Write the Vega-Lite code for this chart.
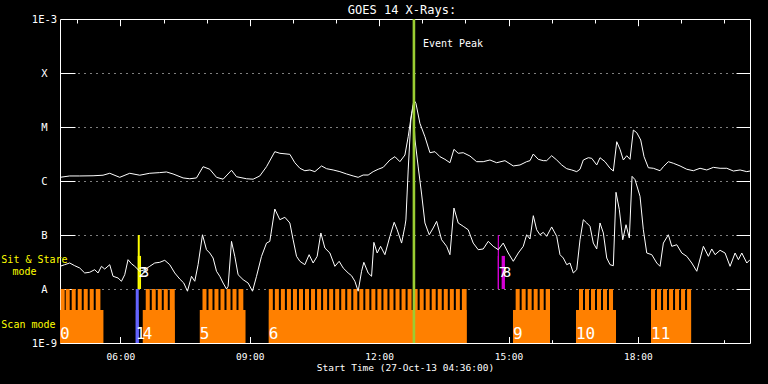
{
  "$schema": "https://vega.github.io/schema/vega-lite/v6.json",
  "width": 690,
  "height": 324,
  "autosize": {"type": "none"},
  "padding": {"left": 60, "top": 19, "right": 18, "bottom": 41},
  "background": "black",
  "title": {"text": "GOES 14 X-Rays:", "color": "white", "fontSize": 12, "fontWeight": "normal", "font": "DejaVu Sans Mono", "frame": "group", "anchor": "middle", "dx": -3, "baseline": "alphabetic", "offset": -11.5},
  "config": {
    "view": {"stroke": null},
    "font": "DejaVu Sans Mono",
    "axis": {"labelColor": "white", "titleColor": "white", "tickColor": "white", "domainColor": "white", "gridColor": "white", "labelFont": "DejaVu Sans Mono", "titleFont": "DejaVu Sans Mono", "titleFontWeight": "normal", "zindex": 1, "tickWidth": 1, "domainWidth": 1}
  },
  "datasets": {
    "xrays": [
      {"hour": 4.6, "flux": 1.17e-6, "channel": "long"},
      {"hour": 4.825, "flux": 1.24e-6, "channel": "long"},
      {"hour": 5.057, "flux": 1.24e-6, "channel": "long"},
      {"hour": 5.366, "flux": 1.25e-6, "channel": "long"},
      {"hour": 5.598, "flux": 1.28e-6, "channel": "long"},
      {"hour": 5.753, "flux": 1.39e-6, "channel": "long"},
      {"hour": 5.985, "flux": 1.17e-6, "channel": "long"},
      {"hour": 6.217, "flux": 1.39e-6, "channel": "long"},
      {"hour": 6.449, "flux": 1.28e-6, "channel": "long"},
      {"hour": 6.681, "flux": 1.39e-6, "channel": "long"},
      {"hour": 6.913, "flux": 1.43e-6, "channel": "long"},
      {"hour": 7.069, "flux": 1.47e-6, "channel": "long"},
      {"hour": 7.222, "flux": 1.35e-6, "channel": "long"},
      {"hour": 7.454, "flux": 1.14e-6, "channel": "long"},
      {"hour": 7.609, "flux": 1.10e-6, "channel": "long"},
      {"hour": 7.765, "flux": 1.14e-6, "channel": "long"},
      {"hour": 7.918, "flux": 1.84e-6, "channel": "long"},
      {"hour": 8.073, "flux": 1.65e-6, "channel": "long"},
      {"hour": 8.229, "flux": 1.17e-6, "channel": "long"},
      {"hour": 8.382, "flux": 1.08e-6, "channel": "long"},
      {"hour": 8.577, "flux": 1.58e-6, "channel": "long"},
      {"hour": 8.693, "flux": 1.20e-6, "channel": "long"},
      {"hour": 8.925, "flux": 1.10e-6, "channel": "long"},
      {"hour": 9.078, "flux": 1.08e-6, "channel": "long"},
      {"hour": 9.233, "flux": 1.24e-6, "channel": "long"},
      {"hour": 9.389, "flux": 1.84e-6, "channel": "long"},
      {"hour": 9.581, "flux": 3.49e-6, "channel": "long"},
      {"hour": 9.698, "flux": 3.26e-6, "channel": "long"},
      {"hour": 9.930, "flux": 3.12e-6, "channel": "long"},
      {"hour": 10.046, "flux": 2.18e-6, "channel": "long"},
      {"hour": 10.162, "flux": 1.72e-6, "channel": "long"},
      {"hour": 10.277, "flux": 1.55e-6, "channel": "long"},
      {"hour": 10.394, "flux": 1.60e-6, "channel": "long"},
      {"hour": 10.510, "flux": 1.49e-6, "channel": "long"},
      {"hour": 10.665, "flux": 1.90e-6, "channel": "long"},
      {"hour": 10.781, "flux": 1.69e-6, "channel": "long"},
      {"hour": 10.934, "flux": 1.60e-6, "channel": "long"},
      {"hour": 11.090, "flux": 1.49e-6, "channel": "long"},
      {"hour": 11.245, "flux": 1.35e-6, "channel": "long"},
      {"hour": 11.398, "flux": 1.24e-6, "channel": "long"},
      {"hour": 11.514, "flux": 1.17e-6, "channel": "long"},
      {"hour": 11.630, "flux": 1.29e-6, "channel": "long"},
      {"hour": 11.746, "flux": 1.29e-6, "channel": "long"},
      {"hour": 11.862, "flux": 1.49e-6, "channel": "long"},
      {"hour": 11.978, "flux": 1.65e-6, "channel": "long"},
      {"hour": 12.094, "flux": 1.79e-6, "channel": "long"},
      {"hour": 12.250, "flux": 2.45e-6, "channel": "long"},
      {"hour": 12.366, "flux": 2.82e-6, "channel": "long"},
      {"hour": 12.482, "flux": 2.28e-6, "channel": "long"},
      {"hour": 12.598, "flux": 3.03e-6, "channel": "long"},
      {"hour": 12.674, "flux": 6.6e-6, "channel": "long"},
      {"hour": 12.753, "flux": 1.79e-5, "channel": "long"},
      {"hour": 12.807, "flux": 3.16e-5, "channel": "long"},
      {"hour": 12.853, "flux": 2.75e-5, "channel": "long"},
      {"hour": 12.946, "flux": 1.17e-5, "channel": "long"},
      {"hour": 13.062, "flux": 6.6e-6, "channel": "long"},
      {"hour": 13.178, "flux": 3.34e-6, "channel": "long"},
      {"hour": 13.294, "flux": 3.49e-6, "channel": "long"},
      {"hour": 13.410, "flux": 2.82e-6, "channel": "long"},
      {"hour": 13.526, "flux": 2.52e-6, "channel": "long"},
      {"hour": 13.642, "flux": 2.18e-6, "channel": "long"},
      {"hour": 13.735, "flux": 3.86e-6, "channel": "long"},
      {"hour": 13.834, "flux": 3.26e-6, "channel": "long"},
      {"hour": 13.950, "flux": 3.34e-6, "channel": "long"},
      {"hour": 14.106, "flux": 2.90e-6, "channel": "long"},
      {"hour": 14.261, "flux": 2.28e-6, "channel": "long"},
      {"hour": 14.414, "flux": 2.28e-6, "channel": "long"},
      {"hour": 14.570, "flux": 2.45e-6, "channel": "long"},
      {"hour": 14.725, "flux": 2.18e-6, "channel": "long"},
      {"hour": 14.918, "flux": 2.38e-6, "channel": "long"},
      {"hour": 15.111, "flux": 1.90e-6, "channel": "long"},
      {"hour": 15.266, "flux": 1.98e-6, "channel": "long"},
      {"hour": 15.421, "flux": 2.28e-6, "channel": "long"},
      {"hour": 15.498, "flux": 2.38e-6, "channel": "long"},
      {"hour": 15.575, "flux": 3.16e-6, "channel": "long"},
      {"hour": 15.690, "flux": 2.52e-6, "channel": "long"},
      {"hour": 15.806, "flux": 2.38e-6, "channel": "long"},
      {"hour": 15.885, "flux": 2.38e-6, "channel": "long"},
      {"hour": 16.001, "flux": 2.94e-6, "channel": "long"},
      {"hour": 16.118, "flux": 2.45e-6, "channel": "long"},
      {"hour": 16.234, "flux": 1.98e-6, "channel": "long"},
      {"hour": 16.350, "flux": 1.69e-6, "channel": "long"},
      {"hour": 16.466, "flux": 1.60e-6, "channel": "long"},
      {"hour": 16.582, "flux": 1.49e-6, "channel": "long"},
      {"hour": 16.658, "flux": 1.65e-6, "channel": "long"},
      {"hour": 16.735, "flux": 2.45e-6, "channel": "long"},
      {"hour": 16.851, "flux": 2.70e-6, "channel": "long"},
      {"hour": 16.930, "flux": 2.63e-6, "channel": "long"},
      {"hour": 17.046, "flux": 1.98e-6, "channel": "long"},
      {"hour": 17.122, "flux": 2.70e-6, "channel": "long"},
      {"hour": 17.238, "flux": 2.28e-6, "channel": "long"},
      {"hour": 17.354, "flux": 1.72e-6, "channel": "long"},
      {"hour": 17.431, "flux": 1.53e-6, "channel": "long"},
      {"hour": 17.510, "flux": 5.34e-6, "channel": "long"},
      {"hour": 17.586, "flux": 3.86e-6, "channel": "long"},
      {"hour": 17.663, "flux": 2.45e-6, "channel": "long"},
      {"hour": 17.742, "flux": 2.94e-6, "channel": "long"},
      {"hour": 17.818, "flux": 2.52e-6, "channel": "long"},
      {"hour": 17.895, "flux": 8.78e-6, "channel": "long"},
      {"hour": 17.974, "flux": 7.84e-6, "channel": "long"},
      {"hour": 18.066, "flux": 5.74e-6, "channel": "long"},
      {"hour": 18.143, "flux": 2.82e-6, "channel": "long"},
      {"hour": 18.243, "flux": 1.76e-6, "channel": "long"},
      {"hour": 18.359, "flux": 1.72e-6, "channel": "long"},
      {"hour": 18.514, "flux": 1.55e-6, "channel": "long"},
      {"hour": 18.591, "flux": 1.84e-6, "channel": "long"},
      {"hour": 18.707, "flux": 2.28e-6, "channel": "long"},
      {"hour": 18.823, "flux": 2.13e-6, "channel": "long"},
      {"hour": 18.978, "flux": 1.90e-6, "channel": "long"},
      {"hour": 19.134, "flux": 1.65e-6, "channel": "long"},
      {"hour": 19.287, "flux": 1.55e-6, "channel": "long"},
      {"hour": 19.442, "flux": 1.72e-6, "channel": "long"},
      {"hour": 19.598, "flux": 1.60e-6, "channel": "long"},
      {"hour": 19.751, "flux": 1.79e-6, "channel": "long"},
      {"hour": 19.906, "flux": 1.72e-6, "channel": "long"},
      {"hour": 20.062, "flux": 1.72e-6, "channel": "long"},
      {"hour": 20.215, "flux": 1.53e-6, "channel": "long"},
      {"hour": 20.370, "flux": 1.60e-6, "channel": "long"},
      {"hour": 20.526, "flux": 1.49e-6, "channel": "long"},
      {"hour": 20.6, "flux": 1.53e-6, "channel": "long"},
      {"hour": 4.6, "flux": 2.63e-8, "channel": "short"},
      {"hour": 4.709, "flux": 2.82e-8, "channel": "short"},
      {"hour": 4.825, "flux": 3.03e-8, "channel": "short"},
      {"hour": 4.941, "flux": 2.70e-8, "channel": "short"},
      {"hour": 5.057, "flux": 2.45e-8, "channel": "short"},
      {"hour": 5.173, "flux": 1.98e-8, "channel": "short"},
      {"hour": 5.289, "flux": 2.04e-8, "channel": "short"},
      {"hour": 5.405, "flux": 2.28e-8, "channel": "short"},
      {"hour": 5.482, "flux": 1.98e-8, "channel": "short"},
      {"hour": 5.561, "flux": 2.63e-8, "channel": "short"},
      {"hour": 5.637, "flux": 2.34e-8, "channel": "short"},
      {"hour": 5.753, "flux": 2.82e-8, "channel": "short"},
      {"hour": 5.830, "flux": 1.72e-8, "channel": "short"},
      {"hour": 5.946, "flux": 1.60e-8, "channel": "short"},
      {"hour": 6.025, "flux": 1.39e-8, "channel": "short"},
      {"hour": 6.101, "flux": 1.84e-8, "channel": "short"},
      {"hour": 6.178, "flux": 3.49e-8, "channel": "short"},
      {"hour": 6.257, "flux": 2.94e-8, "channel": "short"},
      {"hour": 6.333, "flux": 2.63e-8, "channel": "short"},
      {"hour": 6.449, "flux": 2.13e-8, "channel": "short"},
      {"hour": 6.565, "flux": 2.28e-8, "channel": "short"},
      {"hour": 6.681, "flux": 2.63e-8, "channel": "short"},
      {"hour": 6.797, "flux": 3.03e-8, "channel": "short"},
      {"hour": 6.913, "flux": 3.12e-8, "channel": "short"},
      {"hour": 7.029, "flux": 3.40e-8, "channel": "short"},
      {"hour": 7.145, "flux": 2.82e-8, "channel": "short"},
      {"hour": 7.261, "flux": 1.98e-8, "channel": "short"},
      {"hour": 7.377, "flux": 1.53e-8, "channel": "short"},
      {"hour": 7.470, "flux": 1.29e-8, "channel": "short"},
      {"hour": 7.556, "flux": 0.91e-8, "channel": "short"},
      {"hour": 7.649, "flux": 1.72e-8, "channel": "short"},
      {"hour": 7.725, "flux": 1.39e-8, "channel": "short"},
      {"hour": 7.802, "flux": 2.82e-8, "channel": "short"},
      {"hour": 7.904, "flux": 10.1e-8, "channel": "short"},
      {"hour": 7.997, "flux": 5.34e-8, "channel": "short"},
      {"hour": 8.073, "flux": 4.64e-8, "channel": "short"},
      {"hour": 8.150, "flux": 3.75e-8, "channel": "short"},
      {"hour": 8.229, "flux": 2.13e-8, "channel": "short"},
      {"hour": 8.305, "flux": 1.72e-8, "channel": "short"},
      {"hour": 8.382, "flux": 1.29e-8, "channel": "short"},
      {"hour": 8.461, "flux": 1.00e-8, "channel": "short"},
      {"hour": 8.498, "flux": 1.12e-8, "channel": "short"},
      {"hour": 8.577, "flux": 7.62e-8, "channel": "short"},
      {"hour": 8.653, "flux": 4.03e-8, "channel": "short"},
      {"hour": 8.730, "flux": 1.84e-8, "channel": "short"},
      {"hour": 8.846, "flux": 1.49e-8, "channel": "short"},
      {"hour": 8.962, "flux": 1.29e-8, "channel": "short"},
      {"hour": 9.064, "flux": 0.91e-8, "channel": "short"},
      {"hour": 9.157, "flux": 1.72e-8, "channel": "short"},
      {"hour": 9.273, "flux": 4.03e-8, "channel": "short"},
      {"hour": 9.389, "flux": 7.09e-8, "channel": "short"},
      {"hour": 9.465, "flux": 7.62e-8, "channel": "short"},
      {"hour": 9.581, "flux": 30.3e-8, "channel": "short"},
      {"hour": 9.698, "flux": 19.2e-8, "channel": "short"},
      {"hour": 9.814, "flux": 21.3e-8, "channel": "short"},
      {"hour": 9.930, "flux": 16.7e-8, "channel": "short"},
      {"hour": 10.006, "flux": 8.16e-8, "channel": "short"},
      {"hour": 10.085, "flux": 4.03e-8, "channel": "short"},
      {"hour": 10.162, "flux": 3.26e-8, "channel": "short"},
      {"hour": 10.277, "flux": 2.82e-8, "channel": "short"},
      {"hour": 10.377, "flux": 4.32e-8, "channel": "short"},
      {"hour": 10.470, "flux": 3.03e-8, "channel": "short"},
      {"hour": 10.563, "flux": 4.03e-8, "channel": "short"},
      {"hour": 10.649, "flux": 10.9e-8, "channel": "short"},
      {"hour": 10.742, "flux": 5.74e-8, "channel": "short"},
      {"hour": 10.858, "flux": 4.64e-8, "channel": "short"},
      {"hour": 10.974, "flux": 2.63e-8, "channel": "short"},
      {"hour": 11.073, "flux": 3.26e-8, "channel": "short"},
      {"hour": 11.166, "flux": 2.45e-8, "channel": "short"},
      {"hour": 11.282, "flux": 1.98e-8, "channel": "short"},
      {"hour": 11.361, "flux": 1.76e-8, "channel": "short"},
      {"hour": 11.438, "flux": 1.39e-8, "channel": "short"},
      {"hour": 11.514, "flux": 0.91e-8, "channel": "short"},
      {"hour": 11.593, "flux": 2.13e-8, "channel": "short"},
      {"hour": 11.646, "flux": 3.12e-8, "channel": "short"},
      {"hour": 11.746, "flux": 1.98e-8, "channel": "short"},
      {"hour": 11.825, "flux": 1.72e-8, "channel": "short"},
      {"hour": 11.878, "flux": 7.31e-8, "channel": "short"},
      {"hour": 11.955, "flux": 4.64e-8, "channel": "short"},
      {"hour": 12.034, "flux": 6.17e-8, "channel": "short"},
      {"hour": 12.134, "flux": 4.32e-8, "channel": "short"},
      {"hour": 12.250, "flux": 9.44e-8, "channel": "short"},
      {"hour": 12.349, "flux": 17.2e-8, "channel": "short"},
      {"hour": 12.419, "flux": 12.5e-8, "channel": "short"},
      {"hour": 12.521, "flux": 7.09e-8, "channel": "short"},
      {"hour": 12.598, "flux": 14.5e-8, "channel": "short"},
      {"hour": 12.621, "flux": 19.0e-8, "channel": "short"},
      {"hour": 12.674, "flux": 1.60e-6, "channel": "short"},
      {"hour": 12.737, "flux": 1.406e-5, "channel": "short"},
      {"hour": 12.795, "flux": 2.556e-5, "channel": "short"},
      {"hour": 12.830, "flux": 5.99e-6, "channel": "short"},
      {"hour": 12.906, "flux": 1.82e-6, "channel": "short"},
      {"hour": 12.985, "flux": 5.74e-7, "channel": "short"},
      {"hour": 13.062, "flux": 16.7e-8, "channel": "short"},
      {"hour": 13.162, "flux": 10.1e-8, "channel": "short"},
      {"hour": 13.254, "flux": 13.5e-8, "channel": "short"},
      {"hour": 13.333, "flux": 17.9e-8, "channel": "short"},
      {"hour": 13.449, "flux": 8.16e-8, "channel": "short"},
      {"hour": 13.565, "flux": 6.17e-8, "channel": "short"},
      {"hour": 13.642, "flux": 4.32e-8, "channel": "short"},
      {"hour": 13.735, "flux": 31.6e-8, "channel": "short"},
      {"hour": 13.834, "flux": 16.7e-8, "channel": "short"},
      {"hour": 13.950, "flux": 14.5e-8, "channel": "short"},
      {"hour": 14.066, "flux": 12.5e-8, "channel": "short"},
      {"hour": 14.182, "flux": 7.09e-8, "channel": "short"},
      {"hour": 14.298, "flux": 5.34e-8, "channel": "short"},
      {"hour": 14.414, "flux": 5.51e-8, "channel": "short"},
      {"hour": 14.530, "flux": 7.62e-8, "channel": "short"},
      {"hour": 14.646, "flux": 6.17e-8, "channel": "short"},
      {"hour": 14.762, "flux": 5.34e-8, "channel": "short"},
      {"hour": 14.878, "flux": 7.09e-8, "channel": "short"},
      {"hour": 14.994, "flux": 4.64e-8, "channel": "short"},
      {"hour": 15.111, "flux": 3.26e-8, "channel": "short"},
      {"hour": 15.227, "flux": 4.64e-8, "channel": "short"},
      {"hour": 15.343, "flux": 6.17e-8, "channel": "short"},
      {"hour": 15.421, "flux": 10.1e-8, "channel": "short"},
      {"hour": 15.498, "flux": 8.43e-8, "channel": "short"},
      {"hour": 15.575, "flux": 22.8e-8, "channel": "short"},
      {"hour": 15.653, "flux": 12.5e-8, "channel": "short"},
      {"hour": 15.730, "flux": 10.1e-8, "channel": "short"},
      {"hour": 15.806, "flux": 11.2e-8, "channel": "short"},
      {"hour": 15.885, "flux": 9.44e-8, "channel": "short"},
      {"hour": 16.001, "flux": 14.1e-8, "channel": "short"},
      {"hour": 16.118, "flux": 9.44e-8, "channel": "short"},
      {"hour": 16.194, "flux": 4.32e-8, "channel": "short"},
      {"hour": 16.271, "flux": 3.75e-8, "channel": "short"},
      {"hour": 16.350, "flux": 2.82e-8, "channel": "short"},
      {"hour": 16.426, "flux": 3.03e-8, "channel": "short"},
      {"hour": 16.503, "flux": 1.98e-8, "channel": "short"},
      {"hour": 16.582, "flux": 2.28e-8, "channel": "short"},
      {"hour": 16.658, "flux": 8.16e-8, "channel": "short"},
      {"hour": 16.735, "flux": 19.2e-8, "channel": "short"},
      {"hour": 16.814, "flux": 16.7e-8, "channel": "short"},
      {"hour": 16.890, "flux": 14.5e-8, "channel": "short"},
      {"hour": 16.967, "flux": 7.09e-8, "channel": "short"},
      {"hour": 17.046, "flux": 5.51e-8, "channel": "short"},
      {"hour": 17.122, "flux": 16.7e-8, "channel": "short"},
      {"hour": 17.199, "flux": 10.9e-8, "channel": "short"},
      {"hour": 17.278, "flux": 3.75e-8, "channel": "short"},
      {"hour": 17.354, "flux": 2.82e-8, "channel": "short"},
      {"hour": 17.431, "flux": 2.70e-8, "channel": "short"},
      {"hour": 17.493, "flux": 61.8e-8, "channel": "short"},
      {"hour": 17.570, "flux": 29.4e-8, "channel": "short"},
      {"hour": 17.649, "flux": 8.16e-8, "channel": "short"},
      {"hour": 17.725, "flux": 15.5e-8, "channel": "short"},
      {"hour": 17.802, "flux": 8.78e-8, "channel": "short"},
      {"hour": 17.865, "flux": 1.22e-6, "channel": "short"},
      {"hour": 17.934, "flux": 1.06e-6, "channel": "short"},
      {"hour": 18.050, "flux": 5.21e-7, "channel": "short"},
      {"hour": 18.127, "flux": 12.5e-8, "channel": "short"},
      {"hour": 18.206, "flux": 4.64e-8, "channel": "short"},
      {"hour": 18.322, "flux": 4.32e-8, "channel": "short"},
      {"hour": 18.438, "flux": 3.03e-8, "channel": "short"},
      {"hour": 18.514, "flux": 2.63e-8, "channel": "short"},
      {"hour": 18.591, "flux": 7.09e-8, "channel": "short"},
      {"hour": 18.707, "flux": 10.1e-8, "channel": "short"},
      {"hour": 18.786, "flux": 6.17e-8, "channel": "short"},
      {"hour": 18.902, "flux": 6.6e-8, "channel": "short"},
      {"hour": 19.018, "flux": 4.64e-8, "channel": "short"},
      {"hour": 19.134, "flux": 4.03e-8, "channel": "short"},
      {"hour": 19.250, "flux": 3.03e-8, "channel": "short"},
      {"hour": 19.366, "flux": 2.13e-8, "channel": "short"},
      {"hour": 19.519, "flux": 6.17e-8, "channel": "short"},
      {"hour": 19.635, "flux": 4.03e-8, "channel": "short"},
      {"hour": 19.714, "flux": 5.51e-8, "channel": "short"},
      {"hour": 19.790, "flux": 4.32e-8, "channel": "short"},
      {"hour": 19.906, "flux": 5.21e-8, "channel": "short"},
      {"hour": 20.022, "flux": 4.64e-8, "channel": "short"},
      {"hour": 20.138, "flux": 2.63e-8, "channel": "short"},
      {"hour": 20.254, "flux": 4.64e-8, "channel": "short"},
      {"hour": 20.331, "flux": 3.49e-8, "channel": "short"},
      {"hour": 20.410, "flux": 4.64e-8, "channel": "short"},
      {"hour": 20.526, "flux": 3.03e-8, "channel": "short"},
      {"hour": 20.6, "flux": 3.49e-8, "channel": "short"}
    ],
    "scan": [
      {"obs": "0", "start": 4.6, "end": 5.607, "program": "scan-1"},
      {"obs": "1", "start": 6.356, "end": 6.426, "program": "scan-2"},
      {"obs": "4", "start": 6.519, "end": 7.261, "program": "scan-1"},
      {"obs": "5", "start": 7.841, "end": 8.902, "program": "scan-1"},
      {"obs": "6", "start": 9.442, "end": 14.029, "program": "scan-1"},
      {"obs": "9", "start": 15.104, "end": 15.962, "program": "scan-1"},
      {"obs": "10", "start": 16.565, "end": 17.493, "program": "scan-1"},
      {"obs": "11", "start": 18.305, "end": 19.234, "program": "scan-1"}
    ],
    "raster": [
      {"obs": "0", "start": 4.616, "end": 4.709, "program": "scan-1"},
      {"obs": "0", "start": 4.732, "end": 4.825, "program": "scan-1"},
      {"obs": "0", "start": 4.871, "end": 4.964, "program": "scan-1"},
      {"obs": "0", "start": 5.011, "end": 5.104, "program": "scan-1"},
      {"obs": "0", "start": 5.150, "end": 5.243, "program": "scan-1"},
      {"obs": "0", "start": 5.289, "end": 5.382, "program": "scan-1"},
      {"obs": "0", "start": 5.428, "end": 5.537, "program": "scan-1"},
      {"obs": "1", "start": 6.356, "end": 6.426, "program": "scan-2"},
      {"obs": "4", "start": 6.588, "end": 6.681, "program": "scan-1"},
      {"obs": "4", "start": 6.728, "end": 6.820, "program": "scan-1"},
      {"obs": "4", "start": 6.867, "end": 6.960, "program": "scan-1"},
      {"obs": "4", "start": 7.006, "end": 7.099, "program": "scan-1"},
      {"obs": "4", "start": 7.145, "end": 7.261, "program": "scan-1"},
      {"obs": "5", "start": 7.904, "end": 7.997, "program": "scan-1"},
      {"obs": "5", "start": 8.043, "end": 8.136, "program": "scan-1"},
      {"obs": "5", "start": 8.182, "end": 8.275, "program": "scan-1"},
      {"obs": "5", "start": 8.322, "end": 8.414, "program": "scan-1"},
      {"obs": "5", "start": 8.461, "end": 8.554, "program": "scan-1"},
      {"obs": "5", "start": 8.600, "end": 8.693, "program": "scan-1"},
      {"obs": "5", "start": 8.739, "end": 8.851, "program": "scan-1"},
      {"obs": "6", "start": 9.442, "end": 9.535, "program": "scan-1"},
      {"obs": "6", "start": 9.582, "end": 9.675, "program": "scan-1"},
      {"obs": "6", "start": 9.722, "end": 9.815, "program": "scan-1"},
      {"obs": "6", "start": 9.862, "end": 9.955, "program": "scan-1"},
      {"obs": "6", "start": 10.002, "end": 10.095, "program": "scan-1"},
      {"obs": "6", "start": 10.142, "end": 10.235, "program": "scan-1"},
      {"obs": "6", "start": 10.281, "end": 10.374, "program": "scan-1"},
      {"obs": "6", "start": 10.421, "end": 10.514, "program": "scan-1"},
      {"obs": "6", "start": 10.561, "end": 10.654, "program": "scan-1"},
      {"obs": "6", "start": 10.701, "end": 10.794, "program": "scan-1"},
      {"obs": "6", "start": 10.841, "end": 10.934, "program": "scan-1"},
      {"obs": "6", "start": 10.981, "end": 11.074, "program": "scan-1"},
      {"obs": "6", "start": 11.121, "end": 11.214, "program": "scan-1"},
      {"obs": "6", "start": 11.261, "end": 11.354, "program": "scan-1"},
      {"obs": "6", "start": 11.401, "end": 11.494, "program": "scan-1"},
      {"obs": "6", "start": 11.541, "end": 11.634, "program": "scan-1"},
      {"obs": "6", "start": 11.680, "end": 11.773, "program": "scan-1"},
      {"obs": "6", "start": 11.820, "end": 11.913, "program": "scan-1"},
      {"obs": "6", "start": 11.960, "end": 12.053, "program": "scan-1"},
      {"obs": "6", "start": 12.100, "end": 12.193, "program": "scan-1"},
      {"obs": "6", "start": 12.240, "end": 12.333, "program": "scan-1"},
      {"obs": "6", "start": 12.380, "end": 12.473, "program": "scan-1"},
      {"obs": "6", "start": 12.520, "end": 12.613, "program": "scan-1"},
      {"obs": "6", "start": 12.660, "end": 12.753, "program": "scan-1"},
      {"obs": "6", "start": 12.800, "end": 12.893, "program": "scan-1"},
      {"obs": "6", "start": 12.940, "end": 13.033, "program": "scan-1"},
      {"obs": "6", "start": 13.079, "end": 13.172, "program": "scan-1"},
      {"obs": "6", "start": 13.219, "end": 13.312, "program": "scan-1"},
      {"obs": "6", "start": 13.359, "end": 13.452, "program": "scan-1"},
      {"obs": "6", "start": 13.499, "end": 13.592, "program": "scan-1"},
      {"obs": "6", "start": 13.639, "end": 13.732, "program": "scan-1"},
      {"obs": "6", "start": 13.779, "end": 13.872, "program": "scan-1"},
      {"obs": "6", "start": 13.919, "end": 14.029, "program": "scan-1"},
      {"obs": "9", "start": 15.166, "end": 15.259, "program": "scan-1"},
      {"obs": "9", "start": 15.305, "end": 15.398, "program": "scan-1"},
      {"obs": "9", "start": 15.444, "end": 15.537, "program": "scan-1"},
      {"obs": "9", "start": 15.584, "end": 15.676, "program": "scan-1"},
      {"obs": "9", "start": 15.723, "end": 15.816, "program": "scan-1"},
      {"obs": "9", "start": 15.862, "end": 15.962, "program": "scan-1"},
      {"obs": "10", "start": 16.635, "end": 16.728, "program": "scan-1"},
      {"obs": "10", "start": 16.774, "end": 16.867, "program": "scan-1"},
      {"obs": "10", "start": 16.913, "end": 17.006, "program": "scan-1"},
      {"obs": "10", "start": 17.052, "end": 17.145, "program": "scan-1"},
      {"obs": "10", "start": 17.191, "end": 17.284, "program": "scan-1"},
      {"obs": "10", "start": 17.331, "end": 17.424, "program": "scan-1"},
      {"obs": "11", "start": 18.305, "end": 18.398, "program": "scan-1"},
      {"obs": "11", "start": 18.444, "end": 18.537, "program": "scan-1"},
      {"obs": "11", "start": 18.584, "end": 18.676, "program": "scan-1"},
      {"obs": "11", "start": 18.723, "end": 18.816, "program": "scan-1"},
      {"obs": "11", "start": 18.862, "end": 18.955, "program": "scan-1"},
      {"obs": "11", "start": 19.001, "end": 19.094, "program": "scan-1"},
      {"obs": "11", "start": 19.141, "end": 19.234, "program": "scan-1"}
    ],
    "sit": [
      {"obs": "2", "start": 6.403, "end": 6.449, "program": "sit-1"},
      {"obs": "3", "start": 6.449, "end": 6.479, "program": "sit-1"},
      {"obs": "7", "start": 14.751, "end": 14.779, "program": "sit-2"},
      {"obs": "8", "start": 14.841, "end": 14.918, "program": "sit-2"}
    ],
    "sitexp": [
      {"obs": "2", "start": 6.403, "end": 6.449, "program": "sit-1"},
      {"obs": "7", "start": 14.751, "end": 14.779, "program": "sit-2"}
    ]
  },
  "resolve": {"axis": {"x": "independent", "y": "independent"}},
  "layer": [
    {
      "data": {"name": "scan"},
      "mark": {"type": "rect"},
      "encoding": {
        "x": {"field": "start", "type": "quantitative", "scale": {"domain": [4.6, 20.6], "nice": false, "zero": false},
          "axis": {"orient": "bottom", "values": [6, 9, 12, 15, 18], "ticks": false, "grid": false, "domain": true, "labelExpr": "(datum.value < 10 ? '0' : '') + datum.value + ':00'", "labelFontSize": 9.5, "labelPadding": 8, "labelFlush": false, "title": "Start Time (27-Oct-13 04:36:00)", "titleFontSize": 9.5, "titlePadding": 2}},
        "x2": {"field": "end"},
        "y": {"datum": 1e-9, "type": "quantitative", "scale": {"type": "log", "domain": [1e-9, 1e-3], "nice": false},
          "axis": {"orient": "left", "values": [1e-9, 1e-8, 1e-7, 1e-6, 1e-5, 1e-4, 1e-3], "ticks": false, "grid": false, "domain": true, "labelExpr": "['1E-9','A','B','C','M','X','1E-3'][round(log(datum.value)/LN10) + 9]", "labelAlign": "center", "labelPadding": 16, "labelFontSize": 10.5, "title": null}},
        "y2": {"datum": 4.1e-9},
        "color": {"field": "program", "type": "nominal", "legend": null, "scale": {"domain": ["scan-1", "scan-2", "sit-1", "sit-2"], "range": ["#ff8000", "#6464ff", "#ffff00", "#d400d4"]}}
      }
    },
    {
      "data": {"name": "raster"},
      "mark": {"type": "rect"},
      "encoding": {
        "x": {"field": "start", "type": "quantitative", "scale": {"domain": [4.6, 20.6], "nice": false, "zero": false},
          "axis": {"orient": "bottom", "values": [6, 9, 12, 15, 18], "tickSize": -6.5, "labels": false, "grid": false, "domain": false, "title": null}},
        "x2": {"field": "end"},
        "y": {"datum": 1e-9, "type": "quantitative", "scale": {"type": "log", "domain": [1e-9, 1e-3], "nice": false},
          "axis": {"orient": "left", "values": [1e-8, 1e-7, 1e-6, 1e-5, 1e-4], "tickSize": -15, "labels": false, "domain": false, "grid": true, "gridDash": [1, 5], "gridOpacity": 1, "gridWidth": 1, "title": null}},
        "y2": {"datum": 1e-8},
        "color": {"field": "program", "type": "nominal", "legend": null}
      }
    },
    {
      "data": {"name": "sit"},
      "mark": {"type": "rect"},
      "encoding": {
        "x": {"field": "start", "type": "quantitative", "scale": {"domain": [4.6, 20.6], "nice": false, "zero": false},
          "axis": {"orient": "bottom", "values": [5, 7, 8, 10, 11, 13, 14, 16, 17, 19, 20], "tickSize": -3.3, "labels": false, "grid": false, "domain": false, "title": null}},
        "x2": {"field": "end"},
        "y": {"datum": 1e-8, "type": "quantitative", "scale": {"type": "log", "domain": [1e-9, 1e-3], "nice": false},
          "axis": {"orient": "right", "values": [1e-8, 1e-7, 1e-6, 1e-5, 1e-4], "tickSize": -14, "labels": false, "domain": true, "grid": false, "title": null}},
        "y2": {"datum": 4.1e-8},
        "color": {"field": "program", "type": "nominal", "legend": null}
      }
    },
    {
      "data": {"name": "sitexp"},
      "mark": {"type": "rect"},
      "encoding": {
        "x": {"field": "start", "type": "quantitative", "scale": {"domain": [4.6, 20.6], "nice": false, "zero": false},
          "axis": {"orient": "top", "values": [6, 9, 12, 15, 18], "tickSize": -6.7, "labels": false, "grid": false, "domain": true, "title": null}},
        "x2": {"field": "end"},
        "y": {"datum": 1e-8, "type": "quantitative", "scale": {"type": "log", "domain": [1e-9, 1e-3], "nice": false}, "axis": null},
        "y2": {"datum": 1e-7},
        "color": {"field": "program", "type": "nominal", "legend": null}
      }
    },
    {
      "data": {"name": "xrays"},
      "mark": {"type": "line", "strokeWidth": 1, "color": "white"},
      "encoding": {
        "x": {"field": "hour", "type": "quantitative", "scale": {"domain": [4.6, 20.6], "nice": false, "zero": false},
          "axis": {"orient": "top", "values": [5, 7, 8, 10, 11, 13, 14, 16, 17, 19, 20], "tickSize": -4, "labels": false, "grid": false, "domain": false, "title": null}},
        "y": {"field": "flux", "type": "quantitative", "scale": {"type": "log", "domain": [1e-9, 1e-3], "nice": false}, "axis": null},
        "detail": {"field": "channel", "type": "nominal"}
      }
    },
    {
      "data": {"values": [{"event": "Event Peak", "hour": 12.807}]},
      "mark": {"type": "rule", "color": "#9acd32", "strokeWidth": 2.6},
      "encoding": {
        "x": {"field": "hour", "type": "quantitative", "scale": {"domain": [4.6, 20.6], "nice": false, "zero": false}, "axis": null}
      }
    },
    {
      "data": {"values": [{"event": "Event Peak", "hour": 12.807}]},
      "mark": {"type": "text", "color": "white", "fontSize": 10, "align": "left", "baseline": "alphabetic", "dx": 9},
      "encoding": {
        "x": {"field": "hour", "type": "quantitative", "scale": {"domain": [4.6, 20.6], "nice": false, "zero": false}, "axis": null},
        "y": {"datum": 3.07e-4, "type": "quantitative", "scale": {"type": "log", "domain": [1e-9, 1e-3], "nice": false}, "axis": null},
        "text": {"field": "event"}
      }
    },
    {
      "data": {"name": "scan"},
      "mark": {"type": "text", "color": "white", "fontSize": 16, "align": "left", "baseline": "alphabetic"},
      "encoding": {
        "x": {"field": "start", "type": "quantitative", "scale": {"domain": [4.6, 20.6], "nice": false, "zero": false}, "axis": null},
        "y": {"datum": 1.2e-9, "type": "quantitative", "scale": {"type": "log", "domain": [1e-9, 1e-3], "nice": false}, "axis": null},
        "text": {"field": "obs"}
      }
    },
    {
      "data": {"name": "sit"},
      "mark": {"type": "text", "color": "white", "fontSize": 14, "align": "left", "baseline": "alphabetic", "dx": 1},
      "encoding": {
        "x": {"field": "start", "type": "quantitative", "scale": {"domain": [4.6, 20.6], "nice": false, "zero": false}, "axis": null},
        "y": {"datum": 1.65e-8, "type": "quantitative", "scale": {"type": "log", "domain": [1e-9, 1e-3], "nice": false}, "axis": null},
        "text": {"field": "obs"}
      }
    },
    {
      "data": {"values": [{"label": "Sit & Stare"}]},
      "mark": {"type": "text", "color": "#ffff00", "fontSize": 10, "align": "left", "baseline": "alphabetic"},
      "encoding": {
        "x": {"datum": 3.24, "type": "quantitative", "scale": {"domain": [4.6, 20.6], "nice": false, "zero": false}, "axis": null},
        "y": {"datum": 3.03e-8, "type": "quantitative", "scale": {"type": "log", "domain": [1e-9, 1e-3], "nice": false}, "axis": null},
        "text": {"field": "label"}
      }
    },
    {
      "data": {"values": [{"label": "mode"}]},
      "mark": {"type": "text", "color": "#ffff00", "fontSize": 10, "align": "left", "baseline": "alphabetic"},
      "encoding": {
        "x": {"datum": 3.496, "type": "quantitative", "scale": {"domain": [4.6, 20.6], "nice": false, "zero": false}, "axis": null},
        "y": {"datum": 1.84e-8, "type": "quantitative", "scale": {"type": "log", "domain": [1e-9, 1e-3], "nice": false}, "axis": null},
        "text": {"field": "label"}
      }
    },
    {
      "data": {"values": [{"label": "Scan mode"}]},
      "mark": {"type": "text", "color": "#ffff00", "fontSize": 10, "align": "left", "baseline": "alphabetic"},
      "encoding": {
        "x": {"datum": 3.24, "type": "quantitative", "scale": {"domain": [4.6, 20.6], "nice": false, "zero": false}, "axis": null},
        "y": {"datum": 1.9e-9, "type": "quantitative", "scale": {"type": "log", "domain": [1e-9, 1e-3], "nice": false}, "axis": null},
        "text": {"field": "label"}
      }
    }
  ]
}
